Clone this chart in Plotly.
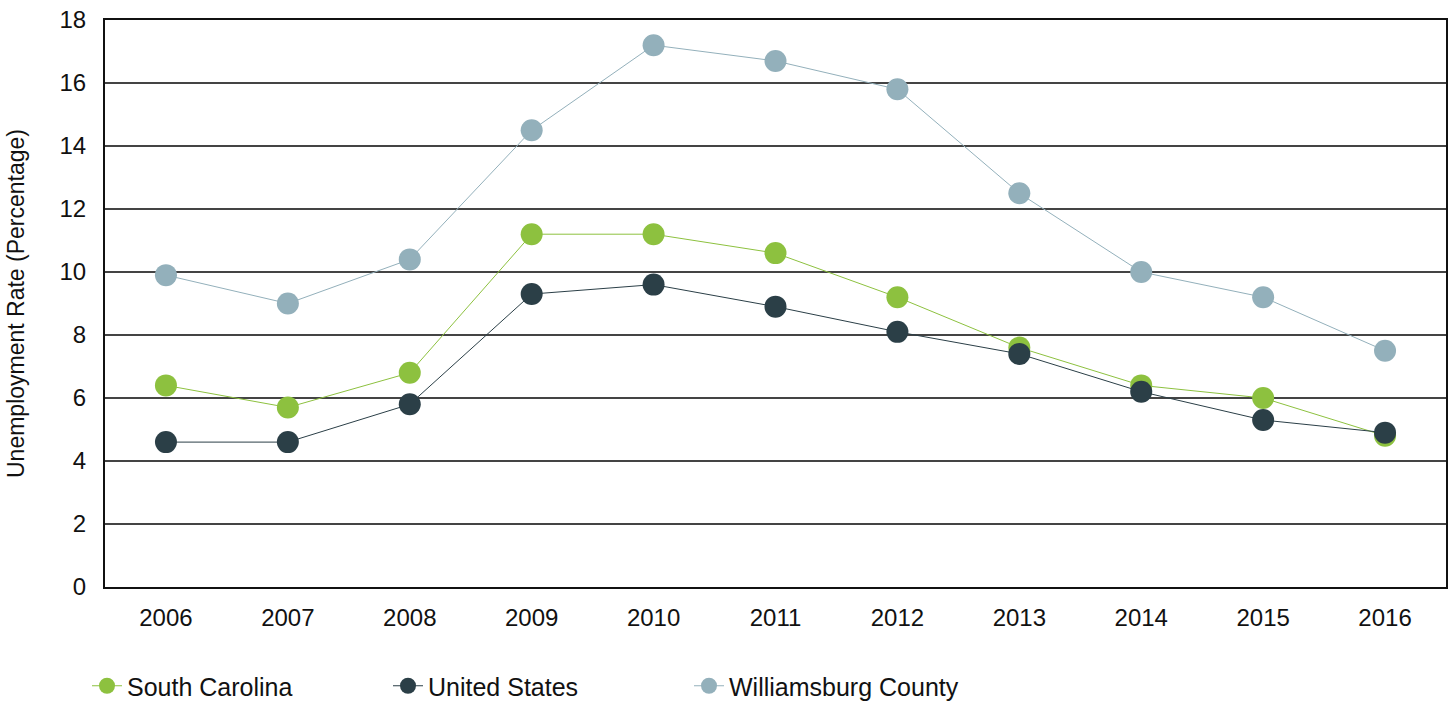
import plotly.graph_objects as go

years = ["2006", "2007", "2008", "2009", "2010", "2011", "2012", "2013", "2014", "2015", "2016"]
south_carolina = [6.4, 5.7, 6.8, 11.2, 11.2, 10.6, 9.2, 7.6, 6.4, 6.0, 4.8]
united_states = [4.6, 4.6, 5.8, 9.3, 9.6, 8.9, 8.1, 7.4, 6.2, 5.3, 4.9]
williamsburg = [9.9, 9.0, 10.4, 14.5, 17.2, 16.7, 15.8, 12.5, 10.0, 9.2, 7.5]

series = [
    ("South Carolina", south_carolina, "#8dc13f"),
    ("United States", united_states, "#2b3f47"),
    ("Williamsburg County", williamsburg, "#93b0bb"),
]

fig = go.Figure()
for name, vals, color in series:
    fig.add_trace(go.Scatter(
        x=years, y=vals, name=name, mode="lines+markers",
        line=dict(color=color, width=1),
        marker=dict(color=color, size=22),
    ))

fig.update_layout(
    width=1449, height=702,
    margin=dict(l=105, r=3, t=20, b=115),
    plot_bgcolor="white", paper_bgcolor="white",
    font=dict(family="Liberation Sans, Arial", size=24, color="#111111"),
    showlegend=True,
    legend=dict(
        orientation="h", x=87 / 1449, xref="container", xanchor="left",
        y=16 / 702, yref="container", yanchor="middle",
        font=dict(size=25), entrywidth=256, entrywidthmode="pixels",
        itemsizing="trace",
    ),
    xaxis=dict(
        type="category", range=[-0.5, 10.5],
        showline=True, linecolor="#111111", linewidth=2, mirror=True,
        showgrid=False, ticks="", ticklabelstandoff=8,
        tickfont=dict(size=24),
    ),
    yaxis=dict(
        range=[0, 18], dtick=2,
        showline=True, linecolor="#111111", linewidth=2, mirror=True,
        showgrid=True, gridcolor="#444444", gridwidth=1.5,
        ticks="", ticklabelstandoff=12, zeroline=False,
        tickfont=dict(size=24), automargin=False,
        title=dict(text="Unemployment Rate (Percentage)", font=dict(size=23), standoff=28),
    ),
)

fig.write_html(
    "out.html",
    post_script="document.body.style.margin='0';",
    config={"displayModeBar": False},
)
